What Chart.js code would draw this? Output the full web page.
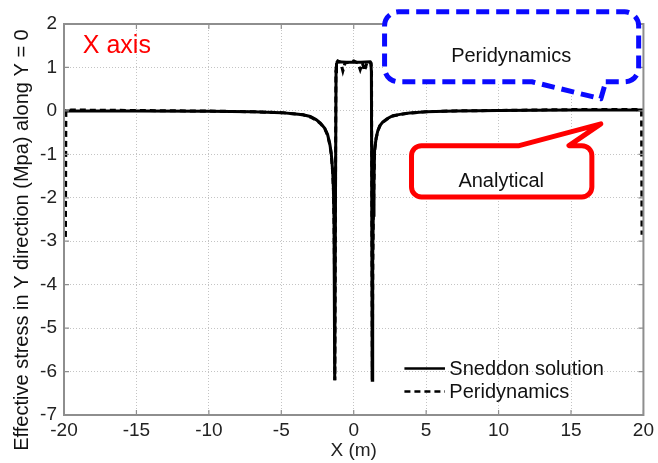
<!DOCTYPE html>
<html>
<head>
<meta charset="utf-8">
<script src="https://cdn.jsdelivr.net/npm/chart.js@4.4.1/dist/chart.umd.min.js"></script>
<style>
  html, body { margin: 0; padding: 0; background: #fff; }
  canvas { display: block; }
</style>
</head>
<body>
<canvas id="stressChart" width="658" height="463"></canvas>
<script>
// --- Stress along the crack line (Y = 0) ---
const sneddonX = [-20, -15, -10, -7, -5, -4, -3.5, -3, -2.6, -2.3, -2.0, -1.8, -1.65, -1.55, -1.45, -1.4, -1.36, -1.33, -1.31, -1.3,
  -1.22, -1.19, -1.1, -0.5, 0, 0.5, 1.1, 1.19, 1.22,
  1.28, 1.3, 1.32, 1.35, 1.4, 1.44, 1.55, 1.67, 1.8, 2.0, 2.3, 2.7, 3.2, 3.85, 5, 7, 10, 15, 20];
const sneddonY = [0.0, -0.005, -0.01, -0.02, -0.04, -0.07, -0.09, -0.13, -0.2, -0.28, -0.4, -0.55, -0.76, -0.98, -1.4, -1.8, -2.5, -3.5, -4.8, -6.2,
  0.9, 1.08, 1.13, 1.12, 1.12, 1.12, 1.13, 1.08, 0.9,
  -6.2, -4.8, -3.4, -2.4, -1.6, -0.91, -0.62, -0.45, -0.34, -0.26, -0.18, -0.11, -0.08, -0.05, -0.02, 0.0, 0.01, 0.02, 0.02];

const periX = [-19.9, -19.87, -19.5, -15, -10, -7, -5, -4, -3.5, -3, -2.6, -2.3, -2.0, -1.8, -1.65, -1.55, -1.45, -1.4, -1.36, -1.33, -1.31, -1.3,
  -1.23, -1.2, -1.1, -0.9, -0.75, -0.6, -0.3, 0, 0.3, 0.45, 0.6, 0.75, 0.9, 1.1, 1.2, 1.23,
  1.28, 1.3, 1.32, 1.35, 1.4, 1.44, 1.55, 1.67, 1.8, 2.0, 2.3, 2.7, 3.2, 3.85, 5, 7, 10, 15, 19.5, 19.87, 19.9];
const periY = [-2.9, 0.0, 0.02, 0.01, -0.005, -0.02, -0.04, -0.07, -0.09, -0.14, -0.21, -0.29, -0.41, -0.56, -0.78, -1.0, -1.42, -1.85, -2.6, -3.6, -4.9, -6.2,
  0.9, 1.1, 1.15, 1.12, 0.92, 1.1, 1.12, 1.15, 1.1, 0.95, 1.1, 0.92, 1.1, 1.15, 1.1, 0.9,
  -6.2, -4.9, -3.5, -2.5, -1.65, -0.93, -0.63, -0.46, -0.35, -0.27, -0.19, -0.12, -0.08, -0.05, -0.02, 0.0, 0.01, 0.03, 0.03, 0.0, -2.85];

const xTicks = [-20, -15, -10, -5, 0, 5, 10, 15, 20];
const yTicks = [2, 1, 0, -1, -2, -3, -4, -5, -6, -7];

const seriesLabels = ['Sneddon solution', 'Peridynamics'];

const FONT = "'Liberation Sans', Arial, sans-serif";

function toPoints(xs, ys) {
    return xs.map((x, i) => ({ x: x, y: ys[i] }));
}

// --- Frame, inward ticks, legend and callouts ---
const decorPlugin = {
    id: 'decor',
    afterDraw(chart) {
        const ctx = chart.ctx;
        const area = chart.chartArea;
        const xs = chart.scales.x;
        const ys = chart.scales.y;
        const px = v => xs.getPixelForValue(v);
        const py = v => ys.getPixelForValue(v);

        ctx.save();

        // axes box with inward ticks on all sides
        ctx.strokeStyle = '#8e8e8e';
        ctx.lineWidth = 2;
        ctx.setLineDash([]);
        ctx.strokeRect(area.left, area.top, area.right - area.left, area.bottom - area.top);
        ctx.lineWidth = 1.2;
        ctx.beginPath();
        xTicks.forEach(v => {
            const x = px(v);
            ctx.moveTo(x, area.bottom); ctx.lineTo(x, area.bottom - 5);
            ctx.moveTo(x, area.top); ctx.lineTo(x, area.top + 5);
        });
        yTicks.forEach(v => {
            const y = py(v);
            ctx.moveTo(area.left, y); ctx.lineTo(area.left + 5, y);
            ctx.moveTo(area.right, y); ctx.lineTo(area.right - 5, y);
        });
        ctx.stroke();

        // legend in the lower right corner of the plot
        chart.data.datasets.forEach((ds, i) => {
            const y = py(-5.93 - i * 0.53);
            ctx.strokeStyle = ds.borderColor;
            ctx.lineWidth = 2.5;
            ctx.setLineDash(ds.borderDash || []);
            ctx.beginPath();
            ctx.moveTo(px(3.5), y);
            ctx.lineTo(px(6.3), y);
            ctx.stroke();
            ctx.setLineDash([]);
            ctx.fillStyle = '#111';
            ctx.font = '20px ' + FONT;
            ctx.textAlign = 'left';
            ctx.textBaseline = 'middle';
            ctx.fillText(ds.label, px(6.6), y + 1);
        });

        // "X axis" note
        ctx.fillStyle = '#ff0000';
        ctx.font = '25px ' + FONT;
        ctx.textAlign = 'left';
        ctx.textBaseline = 'middle';
        ctx.fillText('X axis', px(-18.7), py(1.49));

        // blue dashed callout (tail on bottom edge)
        {
            const x0 = px(2.13), x1 = px(19.67), y0 = py(2.28), y1 = py(0.67), r = 14;
            const bA = px(12.3), bB = px(17.4), tipX = px(17.06), tipY = py(0.28);
            ctx.beginPath();
            ctx.moveTo(bB, y1);
            ctx.arcTo(x1, y1, x1, y0, r);
            ctx.arcTo(x1, y0, x0, y0, r);
            ctx.arcTo(x0, y0, x0, y1, r);
            ctx.arcTo(x0, y1, x1, y1, r);
            ctx.lineTo(bA, y1);
            ctx.lineTo(tipX, tipY);
            ctx.closePath();
            ctx.fillStyle = '#fff';
            ctx.fill();
            ctx.strokeStyle = '#0a0aff';
            ctx.lineWidth = 5;
            ctx.lineJoin = 'round';
            ctx.setLineDash([13, 7]);
            ctx.stroke();
            ctx.setLineDash([]);
            ctx.fillStyle = '#111';
            ctx.font = '20px ' + FONT;
            ctx.textAlign = 'center';
            ctx.fillText('Peridynamics', px(10.87), py(1.26));
        }

        // red solid callout (tail on top edge)
        {
            const x0 = px(3.99), x1 = px(16.44), y0 = py(-0.8), y1 = py(-1.98), r = 10;
            const bA = px(11.42), bB = px(14.86), tipX = px(17.06), tipY = py(-0.3);
            ctx.beginPath();
            ctx.moveTo(bA, y0);
            ctx.lineTo(tipX, tipY);
            ctx.lineTo(bB, y0);
            ctx.arcTo(x1, y0, x1, y1, r);
            ctx.arcTo(x1, y1, x0, y1, r);
            ctx.arcTo(x0, y1, x0, y0, r);
            ctx.arcTo(x0, y0, x1, y0, r);
            ctx.closePath();
            ctx.fillStyle = '#fff';
            ctx.fill();
            ctx.strokeStyle = '#ff0000';
            ctx.lineWidth = 5;
            ctx.lineJoin = 'round';
            ctx.stroke();
            ctx.fillStyle = '#111';
            ctx.font = '20px ' + FONT;
            ctx.textAlign = 'center';
            ctx.fillText('Analytical', px(10.18), py(-1.63));
        }

        // y axis title
        ctx.translate(22, 240);
        ctx.rotate(-Math.PI / 2);
        ctx.fillStyle = '#111';
        ctx.font = '20px ' + FONT;
        ctx.textAlign = 'center';
        ctx.textBaseline = 'middle';
        ctx.fillText('Effective stress in Y direction (Mpa) along Y = 0', 0, 0);

        ctx.restore();
    }
};

new Chart(document.getElementById('stressChart').getContext('2d'), {
    type: 'scatter',
    data: {
        datasets: [
            {
                label: seriesLabels[0],
                data: toPoints(sneddonX, sneddonY),
                showLine: true,
                borderColor: '#000',
                borderWidth: 3,
                pointRadius: 0,
                tension: 0
            },
            {
                label: seriesLabels[1],
                data: toPoints(periX, periY),
                showLine: true,
                borderColor: '#000',
                borderWidth: 3,
                borderDash: [6, 4],
                pointRadius: 0,
                tension: 0
            }
        ]
    },
    options: {
        responsive: false,
        animation: false,
        layout: { padding: { top: 24, right: 13, left: 0, bottom: 0 } },
        plugins: {
            legend: { display: false },
            tooltip: { enabled: false }
        },
        scales: {
            x: {
                type: 'linear',
                min: -20,
                max: 20,
                afterBuildTicks: s => { s.ticks = xTicks.map(v => ({ value: v })); },
                afterFit: s => { s.height = 48; },
                ticks: { color: '#222', font: { family: FONT, size: 19 }, padding: 4, maxRotation: 0 },
                grid: { color: '#c4c4c4', lineWidth: 1, drawTicks: false },
                border: { display: false, dash: [1, 2] },
                title: { display: true, text: 'X (m)', color: '#222', font: { family: FONT, size: 19 }, padding: { top: 0, bottom: 1 } }
            },
            y: {
                min: -7,
                max: 2,
                afterBuildTicks: s => { s.ticks = yTicks.map(v => ({ value: v })); },
                afterFit: s => { s.width = 64; },
                ticks: { color: '#222', font: { family: FONT, size: 19 }, padding: 7 },
                grid: { color: '#c4c4c4', lineWidth: 1, drawTicks: false },
                border: { display: false, dash: [1, 2] }
            }
        }
    },
    plugins: [decorPlugin]
});
</script>
</body>
</html>
